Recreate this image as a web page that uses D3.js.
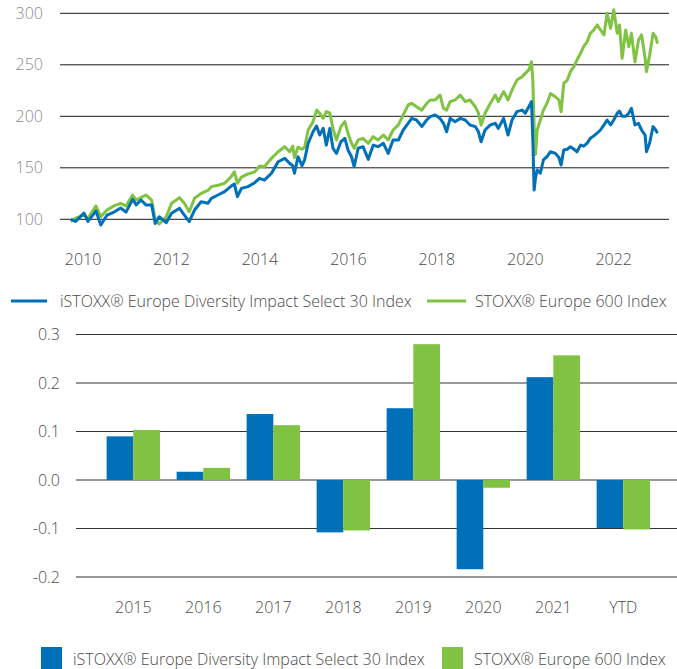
<!DOCTYPE html>
<html>
<head>
<meta charset="utf-8">
<script src="https://cdn.jsdelivr.net/npm/d3@7"></script>
<style>
  body { margin: 0; background: #fff; }
  svg { display: block; }
</style>
</head>
<body>
<div id="vizcontainer"></div>
<script>
// index levels (rebased to 100) at decimal-year positions
const years = [
  2009.72, 2009.83, 2010.02, 2010.11, 2010.29, 2010.40, 2010.54, 2010.70, 2010.85, 2010.97,
  2011.12, 2011.20, 2011.31, 2011.42, 2011.55, 2011.63, 2011.72, 2011.88, 2012.00, 2012.18,
  2012.29, 2012.40, 2012.52, 2012.67, 2012.82, 2012.90, 2013.05, 2013.20, 2013.35, 2013.42,
  2013.49, 2013.58, 2013.73, 2013.88, 2013.99, 2014.10, 2014.26, 2014.41, 2014.56, 2014.67,
  2014.74, 2014.78, 2014.86, 2014.95, 2015.01, 2015.09, 2015.20, 2015.28, 2015.35, 2015.43,
  2015.50, 2015.58, 2015.65, 2015.73, 2015.83, 2015.92, 2015.99, 2016.07, 2016.13, 2016.22,
  2016.33, 2016.45, 2016.56, 2016.67, 2016.79, 2016.90, 2017.01, 2017.13, 2017.24, 2017.35,
  2017.43, 2017.54, 2017.66, 2017.77, 2017.85, 2017.96, 2018.07, 2018.15, 2018.22, 2018.30,
  2018.41, 2018.53, 2018.64, 2018.75, 2018.87, 2018.94, 2019.00, 2019.09, 2019.21, 2019.32,
  2019.39, 2019.51, 2019.61, 2019.70, 2019.81, 2019.93, 2020.00, 2020.08, 2020.14, 2020.17,
  2020.20, 2020.23, 2020.27, 2020.34, 2020.41, 2020.49, 2020.57, 2020.68, 2020.76, 2020.81,
  2020.87, 2020.95, 2021.02, 2021.10, 2021.17, 2021.25, 2021.32, 2021.40, 2021.47, 2021.55,
  2021.63, 2021.70, 2021.78, 2021.85, 2021.93, 2022.00, 2022.08, 2022.13, 2022.19, 2022.27,
  2022.34, 2022.40, 2022.48, 2022.56, 2022.63, 2022.71, 2022.74, 2022.81, 2022.89, 2022.95,
  2022.99
];
const diversity = [
  100, 98, 106, 98, 108, 94.5, 104, 107, 111, 107,
  119.4, 114, 118.7, 114, 114, 96, 102.5, 96.7, 105.8, 110.7,
  104, 97.7, 109, 117, 115.5, 120.4, 123.6, 126.8, 132.3, 134.3,
  122, 130, 131.7, 135.5, 139.8, 138, 144.7, 155.9, 159.2, 154.4,
  152, 144.7, 160.8, 152, 158, 173.8, 185, 190.6, 181.8, 188.3,
  172, 188.3, 169, 164, 175.3, 178.6, 167.3, 160.8, 151, 169,
  170.5, 158.2, 172, 170.5, 173.8, 164, 177, 177, 186.7, 193.2,
  198, 196.4, 190, 196.4, 199.6, 201.3, 198, 193.2, 185, 198,
  194.8, 198, 196.4, 191.6, 190, 185, 175.3, 186.7, 191.6, 193.2,
  188.3, 198, 181.8, 196.4, 204.5, 206, 203, 209.3, 214.2, 177,
  128.4, 140, 147.9, 144.7, 157.6, 160.8, 165.6, 164, 160, 152.7,
  167.3, 168, 170.5, 168, 165.6, 172, 171, 174, 178.6, 181,
  184, 186.7, 191.6, 196.4, 191.6, 196.4, 203, 205, 200, 200,
  203, 207.8, 191.6, 193.2, 186.7, 181.8, 165.6, 173.8, 190, 186.7,
  183.5
];
const stoxx600 = [
  98, 101, 104, 101, 113, 102.5, 109, 113, 115.5, 113,
  123.6, 118.7, 121, 123.6, 118.7, 99.3, 95.4, 102.5, 115.5, 121,
  115.5, 107.4, 120.4, 125.2, 128, 131.7, 133, 135, 141.4, 146.2,
  135, 141, 144, 146, 151.7, 151, 159.2, 165.6, 170.5, 165.6,
  171, 160, 170, 168, 170, 186.7, 194.8, 206, 203, 198,
  204.5, 203, 188.3, 177, 190, 194.8, 183.5, 173.8, 169, 177,
  178.6, 173.8, 180.2, 177, 181.8, 177, 186.7, 191.6, 201.3, 211,
  212.6, 209.3, 206, 212.6, 215.8, 215.8, 220.7, 207.8, 206, 214.2,
  215.8, 220.7, 214.2, 215.8, 209.3, 203, 191.6, 203, 212.6, 220.7,
  214.2, 224, 215.8, 225.5, 235.2, 238.5, 241.7, 245, 253, 235.2,
  190, 163, 186.7, 196.4, 206, 212.6, 222, 219, 215.8, 204.5,
  232, 235.2, 243.3, 248.2, 254.7, 261.2, 267.6, 272.5, 280.6, 283.8,
  288.7, 283.8, 279, 300, 285.4, 303.5, 280.6, 288.7, 256.3, 283.8,
  267.6, 280.6, 252.8, 274, 279, 256.3, 243.3, 258.8, 280.6, 277,
  270.6
];
const yearTicks = [2010, 2012, 2014, 2016, 2018, 2020, 2022];
const levelTicks = [100, 150, 200, 250, 300];

// calendar-year returns
const barCategories = ['2015', '2016', '2017', '2018', '2019', '2020', '2021', 'YTD'];
const barDiversity = [0.090, 0.017, 0.136, -0.108, 0.148, -0.184, 0.212, -0.099];
const barStoxx600 = [0.103, 0.025, 0.113, -0.104, 0.280, -0.016, 0.257, -0.102];
const returnTicks = [-0.2, -0.1, 0.0, 0.1, 0.2, 0.3];

const seriesNames = ['iSTOXX® Europe Diversity Impact Select 30 Index', 'STOXX® Europe 600 Index'];
const colors = ['#0070B8', '#80C242'];

const width = 677, height = 669;
const font = '"Open Sans", sans-serif';
const fontSize = 16;

const svg = d3.select('#vizcontainer')
  .append('svg')
  .attr('width', width)
  .attr('height', height)
  .attr('font-family', font)
  .attr('font-weight', 300);

// ---------- top: index levels ----------
const x = d3.scaleLinear()
  .domain([2009.5, 2023.25])
  .range([61, 669]);

const y = d3.scaleLinear()
  .domain([100, 300])
  .range([219.3, 13.3]);

const lineChart = svg.append('g');

lineChart.append('g')
  .selectAll('line')
  .data(levelTicks)
  .join('line')
  .attr('x1', 60)
  .attr('x2', 669)
  .attr('y1', d => y(d))
  .attr('y2', d => y(d))
  .attr('stroke', '#1a1a1a')
  .attr('stroke-width', 1);

lineChart.append('g')
  .selectAll('text')
  .data(levelTicks)
  .join('text')
  .text(d => d)
  .attr('x', 43)
  .attr('y', d => y(d))
  .attr('dy', '0.35em')
  .attr('text-anchor', 'end')
  .attr('font-size', fontSize)
  .attr('fill', '#8a8a8a');

lineChart.append('g')
  .selectAll('text')
  .data(yearTicks)
  .join('text')
  .text(d => d)
  .attr('x', d => x(d))
  .attr('y', 265)
  .attr('text-anchor', 'middle')
  .attr('font-size', fontSize)
  .attr('fill', '#4a4a4a');

const line = d3.line()
  .x((d, i) => x(years[i]))
  .y(d => y(d));

[stoxx600, diversity].forEach((s, k) => {
  lineChart.append('path')
    .datum(s)
    .attr('d', line)
    .attr('fill', 'none')
    .attr('stroke', k == 0 ? colors[1] : colors[0])
    .attr('stroke-width', 3)
    .attr('stroke-linejoin', 'round');
});

// line legend
const lg = svg.append('g');
const lineLegendX = [[11, 47, 60], [427, 466, 475]];
seriesNames.forEach((name, i) => {
  lg.append('line')
    .attr('x1', lineLegendX[i][0])
    .attr('x2', lineLegendX[i][1])
    .attr('y1', 301)
    .attr('y2', 301)
    .attr('stroke', colors[i])
    .attr('stroke-width', 3);
  lg.append('text')
    .text(name)
    .attr('x', lineLegendX[i][2])
    .attr('y', 301)
    .attr('dy', '0.35em')
    .attr('font-size', fontSize)
    .attr('fill', '#4a4a4a');
});

// ---------- bottom: annual returns ----------
const fmt = d3.formatLocale({ decimal: '.', thousands: ',', grouping: [3], currency: ['', ''], minus: '-' }).format('.1f');

const x2 = d3.scaleBand()
  .domain(barCategories)
  .range([98.3, 658.3])
  .paddingInner(0.238)
  .paddingOuter(0.119);

const xs = d3.scaleBand()
  .domain([0, 1])
  .range([0, x2.bandwidth()]);

const y2 = d3.scaleLinear()
  .domain([-0.2, 0.3])
  .range([577, 334.5]);

const barChart = svg.append('g');

barChart.append('g')
  .selectAll('line')
  .data(returnTicks)
  .join('line')
  .attr('x1', 76)
  .attr('x2', 677)
  .attr('y1', d => y2(d))
  .attr('y2', d => y2(d))
  .attr('stroke', '#333')
  .attr('stroke-width', 1.2);

barChart.append('g')
  .selectAll('text')
  .data(returnTicks)
  .join('text')
  .text(d => fmt(d))
  .attr('x', 60)
  .attr('y', d => y2(d))
  .attr('dy', '0.35em')
  .attr('text-anchor', 'end')
  .attr('font-size', fontSize)
  .attr('fill', '#4a4a4a');

const barData = barCategories.map((c, i) => ({ cat: c, values: [barDiversity[i], barStoxx600[i]] }));

barChart.append('g')
  .selectAll('g')
  .data(barData)
  .join('g')
  .attr('transform', d => `translate(${x2(d.cat)},0)`)
  .selectAll('rect')
  .data(d => d.values.map((v, k) => ({ k: k, v: v })))
  .join('rect')
  .attr('x', d => xs(d.k))
  .attr('width', xs.bandwidth())
  .attr('y', d => y2(Math.max(0, d.v)))
  .attr('height', d => Math.abs(y2(d.v) - y2(0)))
  .attr('fill', d => colors[d.k]);

barChart.append('g')
  .selectAll('text')
  .data(barCategories)
  .join('text')
  .text(d => d)
  .attr('x', d => x2(d) + x2.bandwidth() / 2)
  .attr('y', 613)
  .attr('text-anchor', 'middle')
  .attr('font-size', fontSize)
  .attr('fill', '#4a4a4a');

// bar legend
const bl = svg.append('g');
const barLegendX = [[41, 73], [442, 474]];
seriesNames.forEach((name, i) => {
  bl.append('rect')
    .attr('x', barLegendX[i][0])
    .attr('y', 647)
    .attr('width', 21)
    .attr('height', 22)
    .attr('fill', colors[i]);
  bl.append('text')
    .text(name)
    .attr('x', barLegendX[i][1])
    .attr('y', 659)
    .attr('dy', '0.35em')
    .attr('font-size', fontSize)
    .attr('fill', '#4a4a4a');
});
</script>
</body>
</html>
